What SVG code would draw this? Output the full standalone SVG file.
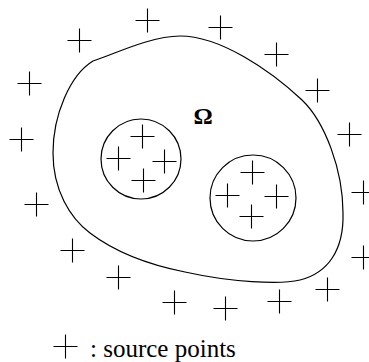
<svg xmlns="http://www.w3.org/2000/svg" xmlns:xlink="http://www.w3.org/1999/xlink" width="369" height="362" viewBox="0 0 369 362">
<style>
.c{fill:none;stroke:#000;stroke-width:1.2}
.p{fill:none;stroke:#000;stroke-width:1.1}
</style>
<defs>
<path id="x" class="p" d="M-12,0H12M0,-12V12"/>
</defs>
<rect width="369" height="362" fill="#fff"/>
<g id="domain">
<path class="c" d="M93,61 C110,56 150,36 180,36 C220,36 270,70 302,100 C325,122 343,170 343,213 C344,250 328,273 300,280 C280,285 230,282 185,272 C150,265 115,252 90,233 C70,218 53,190 53,153 C53,115 70,75 93,61 Z"/>
<text x="203" y="124" font-family="Liberation Serif, Times New Roman, serif" font-size="24" font-weight="bold" text-anchor="middle" fill="#000">Ω</text>
</g>
<g id="hole-left">
<circle class="c" cx="141" cy="159" r="40"/>
<use xlink:href="#x" x="142.5" y="136.5"/>
<use xlink:href="#x" x="118.5" y="158.5"/>
<use xlink:href="#x" x="164.5" y="161.5"/>
<use xlink:href="#x" x="143.5" y="180.5"/>
</g>
<g id="hole-right">
<circle class="c" cx="253" cy="198" r="43"/>
<use xlink:href="#x" x="252.5" y="172.5"/>
<use xlink:href="#x" x="227.5" y="195.5"/>
<use xlink:href="#x" x="276.5" y="196.5"/>
<use xlink:href="#x" x="251.5" y="216.5"/>
</g>
<g id="sources">
<use xlink:href="#x" x="147.5" y="20.5"/>
<use xlink:href="#x" x="79.5" y="40.5"/>
<use xlink:href="#x" x="29.5" y="83.5"/>
<use xlink:href="#x" x="21.5" y="139.5"/>
<use xlink:href="#x" x="36.5" y="204.5"/>
<use xlink:href="#x" x="72.5" y="250.5"/>
<use xlink:href="#x" x="118.5" y="277.5"/>
<use xlink:href="#x" x="174.5" y="302.5"/>
<use xlink:href="#x" x="225.5" y="308.5"/>
<use xlink:href="#x" x="279.5" y="301.5"/>
<use xlink:href="#x" x="327.5" y="289.5"/>
<use xlink:href="#x" x="363.5" y="257.5"/>
<use xlink:href="#x" x="363.5" y="192.5"/>
<use xlink:href="#x" x="349.5" y="134.5"/>
<use xlink:href="#x" x="317.5" y="90.5"/>
<use xlink:href="#x" x="276.5" y="54.5"/>
<use xlink:href="#x" x="220.5" y="27.5"/>
</g>
<g id="legend">
<use xlink:href="#x" x="65.5" y="346.5"/>
<text x="90" y="357" font-family="Liberation Serif, Times New Roman, serif" font-size="25" fill="#000">: source points</text>
</g>
</svg>
